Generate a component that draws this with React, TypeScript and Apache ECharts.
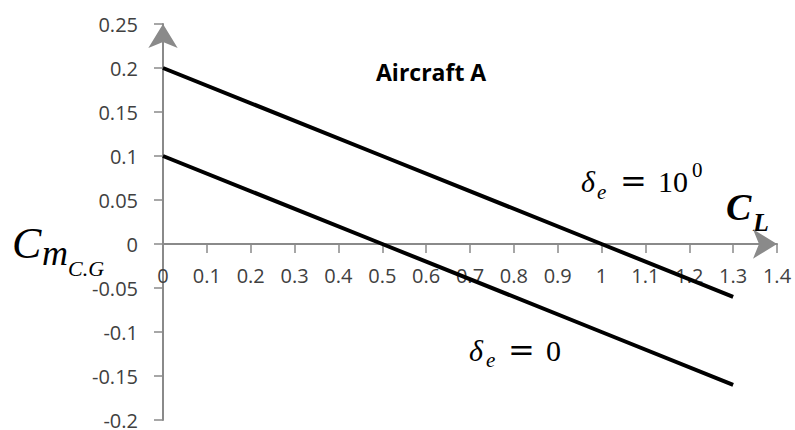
import React, { useEffect, useRef } from "react";
import * as echarts from "echarts";

// Lift coefficient sample points and pitching-moment coefficient about the C.G.
const liftCoeff = [0, 0.5, 1, 1.3];
const cmDeltaE10 = [0.2, 0.1, 0, -0.06];
const cmDeltaE0 = [0.1, 0, -0.1, -0.16];

// Axis ranges
const xRange = { min: 0, max: 1.4, interval: 0.1 };
const yRange = { min: -0.2, max: 0.25, interval: 0.05 };

const AXIS_GRAY = "#8a8a8a";
const LABEL_GRAY = "#404040";
const SERIF = "'Liberation Serif', serif";

const GRID = { left: 163, right: 18, top: 24, bottom: 10 };
const CHART_H = 430;

function mathText(
  text: string,
  left: number,
  y: number,
  size: number,
  italic = true,
  bold = false,
  family = SERIF
) {
  return {
    type: "text",
    x: left,
    y,
    silent: true,
    style: {
      text,
      fill: "#000",
      font: `${italic ? "italic " : ""}${bold ? "bold " : ""}${size}px ${family}`,
      align: "left",
      verticalAlign: "middle",
    },
  };
}

export default function App() {
  const ref = useRef<HTMLDivElement>(null);

  useEffect(() => {
    if (!ref.current) return;
    const chart = echarts.init(ref.current, undefined, { renderer: "svg" });

    // lift the horizontal axis from the bottom of the grid up to Cm = 0
    const plotH = CHART_H - GRID.top - GRID.bottom;
    const zeroOffset = ((0 - yRange.min) / (yRange.max - yRange.min)) * plotH;

    const axisLine = {
      show: true,
      onZero: false,
      symbol: ["none", "arrow"],
      symbolSize: [22, 24],
      symbolOffset: [0, 0],
      lineStyle: { color: AXIS_GRAY, width: 2 },
    };

    chart.setOption({
      animation: false,
      backgroundColor: "#fff",
      grid: { ...GRID, containLabel: false, outerBoundsMode: "none" },
      xAxis: {
        type: "value",
        position: "bottom",
        offset: -zeroOffset,
        min: xRange.min,
        max: xRange.max,
        interval: xRange.interval,
        axisLine,
        axisTick: { show: true, length: 9, lineStyle: { color: AXIS_GRAY, width: 1.5 } },
        splitLine: { show: false },
        axisLabel: {
          margin: 21,
          color: LABEL_GRAY,
          fontFamily: "'Open Sans', sans-serif",
          fontSize: 20,
        },
      },
      yAxis: {
        type: "value",
        position: "left",
        min: yRange.min,
        max: yRange.max,
        interval: yRange.interval,
        axisLine,
        axisTick: { show: true, length: 9, lineStyle: { color: AXIS_GRAY, width: 1.5 } },
        splitLine: { show: false },
        axisLabel: {
          margin: 25,
          color: LABEL_GRAY,
          fontFamily: "'Open Sans', sans-serif",
          fontSize: 20,
        },
      },
      series: [
        {
          name: "δe = 10°",
          type: "line",
          data: liftCoeff.map((x, i) => [x, cmDeltaE10[i]]),
          showSymbol: false,
          lineStyle: { color: "#000", width: 4 },
          z: 5,
        },
        {
          name: "δe = 0",
          type: "line",
          data: liftCoeff.map((x, i) => [x, cmDeltaE0[i]]),
          showSymbol: false,
          lineStyle: { color: "#000", width: 4 },
          z: 5,
        },
      ],
      graphic: [
        {
          type: "text",
          x: 376,
          y: 72,
          silent: true,
          style: {
            text: "Aircraft A",
            fill: "#000",
            font: "bold 23px 'Open Sans', sans-serif",
            align: "left",
            verticalAlign: "middle",
          },
        },
        // C_m with subscript C.G (vertical axis title)
        mathText("C", 12, 243, 44),
        mathText("m", 42, 253, 36),
        mathText("C.G", 68, 268, 22),
        // C_L (horizontal axis title)
        mathText("C", 726, 207, 38, true, true),
        mathText("L", 753, 222, 26, true, true),
        // δe = 10^0
        mathText("δ", 581, 181, 30),
        mathText("e", 597, 192, 21),
        mathText("=", 620, 181, 32, false, false, "'DejaVu Serif', serif"),
        mathText("10", 658, 181, 30, false),
        mathText("0", 692, 170, 21, false),
        // δe = 0
        mathText("δ", 469, 350, 30),
        mathText("e", 486, 360, 21),
        mathText("=", 508, 350, 32, false, false, "'DejaVu Serif', serif"),
        mathText("0", 546, 350, 30, false),
      ],
    });

    return () => chart.dispose();
  }, []);

  return (
    <div
      ref={ref}
      style={{ position: "fixed", left: 0, top: 0, width: 795, height: 430, background: "#fff" }}
    />
  );
}
